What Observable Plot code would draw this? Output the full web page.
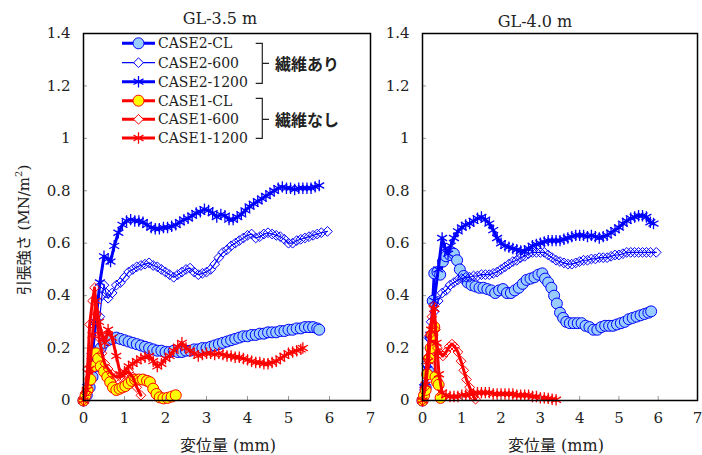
<!DOCTYPE html>
<html><head><meta charset="utf-8">
<script src="https://cdn.jsdelivr.net/npm/d3@7"></script>
<script src="https://cdn.jsdelivr.net/npm/@observablehq/plot@0.6"></script>
<style>
body{margin:0;background:#fff;}
#wrap{position:relative;width:702px;height:455px;overflow:hidden;background:#fff;}
#wrap svg{position:absolute;top:0;}
</style></head><body><div id="wrap"></div>
<script>
// ---------- labels / ticks ----------
const xTicks = [0, 1, 2, 3, 4, 5, 6, 7];
const yTicks = [0, 0.2, 0.4, 0.6, 0.8, 1, 1.2, 1.4];
const seriesNames = ["CASE2-CL", "CASE2-600", "CASE2-1200", "CASE1-CL", "CASE1-600", "CASE1-1200"];
const panelTitles = ["GL-3.5 m", "GL-4.0 m"];
const groupLabels = ["繊維あり", "繊維なし"];
const xLabel = "変位量 (mm)";
const yLabelParts = ["引張強さ (MN/m", "2", ")"];

// ---------- GL-3.5 m data [displacement mm, strength MN/m2] ----------
const gl35_case2_cl = [[0,0],[0.08,0.02],[0.15,0.05],[0.22,0.09],[0.3,0.13],[0.36,0.17],[0.42,0.2],[0.5,0.22],[0.6,0.23],[0.7,0.235],[0.8,0.24],[0.9,0.235],[1.0,0.23],[1.1,0.225],[1.2,0.22],[1.3,0.215],[1.4,0.21],[1.5,0.205],[1.6,0.2],[1.7,0.195],[1.8,0.19],[1.9,0.19],[2.0,0.185],[2.1,0.185],[2.2,0.19],[2.3,0.185],[2.4,0.185],[2.5,0.19],[2.6,0.19],[2.7,0.195],[2.8,0.195],[2.9,0.2],[3.0,0.2],[3.1,0.205],[3.2,0.21],[3.3,0.215],[3.4,0.22],[3.5,0.225],[3.6,0.23],[3.7,0.235],[3.8,0.24],[3.9,0.245],[4.0,0.245],[4.1,0.25],[4.2,0.25],[4.3,0.255],[4.4,0.255],[4.5,0.26],[4.6,0.26],[4.7,0.26],[4.8,0.265],[4.9,0.265],[5.0,0.27],[5.1,0.27],[5.2,0.275],[5.3,0.275],[5.4,0.28],[5.5,0.28],[5.6,0.28],[5.7,0.275],[5.75,0.27]];
const gl35_case2_600 = [[0,0],[0.1,0.06],[0.2,0.18],[0.3,0.3],[0.4,0.32],[0.45,0.4],[0.5,0.44],[0.55,0.41],[0.6,0.39],[0.7,0.41],[0.8,0.44],[0.9,0.45],[1.0,0.47],[1.1,0.49],[1.2,0.5],[1.3,0.51],[1.4,0.515],[1.5,0.52],[1.6,0.525],[1.7,0.515],[1.8,0.51],[1.9,0.5],[2.0,0.49],[2.1,0.48],[2.2,0.47],[2.3,0.48],[2.4,0.49],[2.5,0.5],[2.6,0.505],[2.7,0.49],[2.8,0.48],[2.9,0.485],[3.0,0.49],[3.1,0.5],[3.2,0.52],[3.3,0.545],[3.4,0.565],[3.5,0.575],[3.6,0.59],[3.7,0.6],[3.8,0.61],[3.9,0.62],[4.0,0.63],[4.1,0.635],[4.2,0.62],[4.3,0.625],[4.4,0.635],[4.5,0.64],[4.6,0.635],[4.7,0.63],[4.8,0.625],[4.9,0.615],[5.0,0.6],[5.1,0.6],[5.2,0.61],[5.3,0.615],[5.4,0.62],[5.5,0.625],[5.6,0.63],[5.7,0.635],[5.8,0.64],[5.95,0.645]];
const gl35_case2_1200 = [[0,0],[0.1,0.05],[0.2,0.15],[0.3,0.3],[0.4,0.45],[0.5,0.55],[0.6,0.54],[0.66,0.53],[0.75,0.59],[0.85,0.64],[0.95,0.67],[1.05,0.685],[1.15,0.69],[1.25,0.685],[1.35,0.685],[1.45,0.68],[1.55,0.67],[1.65,0.66],[1.75,0.655],[1.85,0.655],[1.95,0.66],[2.05,0.66],[2.15,0.665],[2.25,0.67],[2.35,0.68],[2.45,0.69],[2.55,0.695],[2.65,0.705],[2.75,0.715],[2.85,0.72],[2.95,0.73],[3.05,0.725],[3.15,0.715],[3.25,0.7],[3.35,0.71],[3.45,0.705],[3.55,0.69],[3.65,0.69],[3.75,0.7],[3.85,0.71],[3.95,0.725],[4.05,0.74],[4.15,0.75],[4.25,0.76],[4.35,0.77],[4.45,0.78],[4.55,0.79],[4.65,0.8],[4.75,0.81],[4.85,0.815],[4.95,0.81],[5.05,0.81],[5.15,0.805],[5.25,0.81],[5.35,0.81],[5.45,0.81],[5.55,0.81],[5.65,0.815],[5.75,0.82]];
const gl35_case1_cl = [[0,0],[0.05,0.02],[0.1,0.04],[0.17,0.08],[0.23,0.13],[0.3,0.18],[0.36,0.16],[0.42,0.13],[0.5,0.11],[0.58,0.09],[0.65,0.07],[0.72,0.05],[0.8,0.04],[0.88,0.045],[0.95,0.05],[1.02,0.055],[1.1,0.065],[1.18,0.075],[1.26,0.08],[1.35,0.08],[1.45,0.08],[1.55,0.075],[1.62,0.07],[1.7,0.045],[1.78,0.025],[1.86,0.012],[1.95,0.008],[2.05,0.01],[2.15,0.015],[2.25,0.02]];
const gl35_case1_600 = [[0,0],[0.05,0.03],[0.1,0.12],[0.15,0.29],[0.22,0.38],[0.27,0.43],[0.32,0.33],[0.38,0.24],[0.45,0.18],[0.52,0.14],[0.6,0.12],[0.7,0.1],[0.8,0.09],[0.9,0.09],[1.0,0.1],[1.1,0.11],[1.2,0.09],[1.3,0.05],[1.4,0.02]];
const gl35_case1_1200 = [[0,0],[0.08,0.04],[0.15,0.12],[0.22,0.25],[0.3,0.38],[0.38,0.3],[0.45,0.25],[0.52,0.22],[0.6,0.27],[0.7,0.24],[0.8,0.17],[0.9,0.1],[1.0,0.11],[1.1,0.13],[1.2,0.14],[1.3,0.15],[1.4,0.16],[1.5,0.165],[1.6,0.17],[1.7,0.15],[1.8,0.13],[1.9,0.14],[2.0,0.16],[2.1,0.17],[2.2,0.19],[2.3,0.205],[2.4,0.22],[2.5,0.2],[2.6,0.19],[2.7,0.18],[2.8,0.17],[2.9,0.175],[3.0,0.18],[3.1,0.18],[3.2,0.175],[3.3,0.18],[3.4,0.175],[3.5,0.17],[3.6,0.17],[3.7,0.165],[3.8,0.165],[3.9,0.16],[4.0,0.155],[4.1,0.15],[4.2,0.145],[4.3,0.145],[4.4,0.14],[4.5,0.14],[4.6,0.145],[4.7,0.15],[4.8,0.16],[4.9,0.17],[5.0,0.18],[5.1,0.185],[5.2,0.19],[5.3,0.195],[5.35,0.2]];

// ---------- GL-4.0 m data ----------
const gl40_case2_cl = [[0,0],[0.08,0.05],[0.16,0.11],[0.22,0.24],[0.26,0.38],[0.3,0.485],[0.38,0.49],[0.45,0.48],[0.52,0.53],[0.6,0.55],[0.7,0.555],[0.8,0.56],[0.88,0.535],[0.95,0.5],[1.05,0.475],[1.15,0.45],[1.25,0.44],[1.35,0.435],[1.45,0.43],[1.55,0.43],[1.65,0.425],[1.75,0.42],[1.85,0.41],[1.95,0.42],[2.05,0.425],[2.15,0.41],[2.25,0.41],[2.35,0.42],[2.45,0.43],[2.55,0.445],[2.65,0.46],[2.75,0.465],[2.85,0.47],[2.95,0.48],[3.05,0.485],[3.12,0.465],[3.2,0.45],[3.28,0.43],[3.35,0.4],[3.42,0.37],[3.5,0.335],[3.58,0.315],[3.66,0.3],[3.75,0.295],[3.85,0.295],[3.95,0.295],[4.05,0.295],[4.15,0.285],[4.25,0.28],[4.35,0.27],[4.45,0.27],[4.55,0.28],[4.65,0.285],[4.75,0.285],[4.85,0.285],[4.95,0.29],[5.05,0.295],[5.15,0.3],[5.25,0.31],[5.35,0.315],[5.45,0.32],[5.55,0.325],[5.65,0.33],[5.75,0.335],[5.82,0.34]];
const gl40_case2_600 = [[0,0],[0.05,0.06],[0.1,0.14],[0.16,0.24],[0.22,0.3],[0.3,0.34],[0.4,0.38],[0.5,0.41],[0.6,0.42],[0.7,0.44],[0.8,0.45],[0.9,0.46],[1.0,0.465],[1.1,0.47],[1.2,0.47],[1.3,0.475],[1.4,0.475],[1.5,0.48],[1.6,0.48],[1.7,0.48],[1.8,0.485],[1.9,0.49],[2.0,0.5],[2.1,0.51],[2.2,0.52],[2.3,0.53],[2.4,0.535],[2.5,0.545],[2.6,0.55],[2.7,0.56],[2.8,0.565],[2.9,0.565],[3.0,0.565],[3.1,0.565],[3.2,0.555],[3.3,0.545],[3.4,0.535],[3.5,0.53],[3.6,0.525],[3.7,0.52],[3.8,0.52],[3.9,0.525],[4.0,0.53],[4.1,0.535],[4.2,0.535],[4.3,0.54],[4.4,0.54],[4.5,0.545],[4.6,0.545],[4.7,0.545],[4.8,0.55],[4.9,0.555],[5.0,0.555],[5.1,0.56],[5.2,0.565],[5.3,0.565],[5.4,0.565],[5.5,0.565],[5.6,0.565],[5.7,0.565],[5.8,0.565],[5.95,0.565]];
const gl40_case2_1200 = [[0,0],[0.05,0.05],[0.12,0.12],[0.2,0.25],[0.3,0.38],[0.4,0.5],[0.5,0.62],[0.58,0.58],[0.65,0.56],[0.72,0.59],[0.8,0.62],[0.9,0.645],[1.0,0.66],[1.1,0.67],[1.2,0.675],[1.3,0.685],[1.4,0.695],[1.5,0.7],[1.6,0.69],[1.7,0.675],[1.8,0.65],[1.9,0.62],[2.0,0.6],[2.1,0.59],[2.2,0.585],[2.3,0.58],[2.4,0.575],[2.5,0.57],[2.6,0.57],[2.7,0.58],[2.8,0.59],[2.9,0.595],[3.0,0.6],[3.1,0.605],[3.2,0.61],[3.3,0.61],[3.4,0.61],[3.5,0.61],[3.6,0.615],[3.7,0.62],[3.8,0.625],[3.9,0.63],[4.0,0.63],[4.1,0.63],[4.2,0.625],[4.3,0.63],[4.4,0.625],[4.5,0.62],[4.6,0.625],[4.7,0.63],[4.8,0.64],[4.9,0.65],[5.0,0.66],[5.1,0.675],[5.2,0.685],[5.3,0.695],[5.4,0.7],[5.5,0.705],[5.6,0.705],[5.7,0.7],[5.8,0.68],[5.88,0.675]];
const gl40_case1_cl = [[0,0],[0.04,0.02],[0.08,0.04],[0.12,0.1],[0.17,0.16],[0.21,0.2],[0.25,0.25],[0.3,0.28],[0.33,0.09],[0.37,0.07],[0.41,0.06],[0.46,0.01]];
const gl40_case1_600 = [[0,0],[0.06,0.05],[0.12,0.16],[0.18,0.25],[0.24,0.32],[0.28,0.36],[0.33,0.27],[0.38,0.2],[0.45,0.18],[0.52,0.17],[0.6,0.185],[0.68,0.205],[0.75,0.215],[0.82,0.205],[0.9,0.185],[0.98,0.15],[1.05,0.115],[1.12,0.08],[1.2,0.05],[1.28,0.02],[1.35,0.005]];
const gl40_case1_1200 = [[0,0],[0.08,0.06],[0.15,0.15],[0.22,0.27],[0.3,0.35],[0.36,0.22],[0.42,0.1],[0.5,0.03],[0.6,0.02],[0.7,0.015],[0.8,0.015],[0.9,0.015],[1.0,0.02],[1.1,0.02],[1.2,0.025],[1.3,0.025],[1.4,0.03],[1.5,0.03],[1.6,0.03],[1.7,0.03],[1.8,0.025],[1.9,0.025],[2.0,0.025],[2.1,0.025],[2.2,0.025],[2.3,0.025],[2.4,0.02],[2.5,0.02],[2.6,0.02],[2.7,0.02],[2.8,0.015],[2.9,0.015],[3.0,0.01],[3.1,0.01],[3.2,0.008],[3.3,0.005],[3.4,0.003]];

// ---------- styling (not data) ----------
const BLUE = "#0000ff", RED = "#ff0000";
const styles = {
  "CASE2-CL":   {stroke: BLUE, lw: 3,   symbol: "circle",   fill: "#99ccff", mw: 1,   r: 5.5},
  "CASE2-600":  {stroke: BLUE, lw: 1.2, symbol: "diamond2", fill: "none",    mw: 1,   r: 4.4},
  "CASE2-1200": {stroke: BLUE, lw: 3,   symbol: "asterisk", fill: "none",    mw: 1.3, r: 5.4},
  "CASE1-CL":   {stroke: RED,  lw: 3,   symbol: "circle",   fill: "#ffff00", mw: 1,   r: 5.5},
  "CASE1-600":  {stroke: RED,  lw: 3,   symbol: "diamond2", fill: "none",    mw: 1,   r: 4.4},
  "CASE1-1200": {stroke: RED,  lw: 3,   symbol: "asterisk", fill: "none",    mw: 1.3, r: 5.4}
};

const panels = [
  {title: panelTitles[0], series: [gl35_case2_cl, gl35_case2_600, gl35_case2_1200, gl35_case1_cl, gl35_case1_600, gl35_case1_1200],
   left: 0, width: 380, ml: 83, mr: 10},
  {title: panelTitles[1], series: [gl40_case2_cl, gl40_case2_600, gl40_case2_1200, gl40_case1_cl, gl40_case1_600, gl40_case1_1200],
   left: 340, width: 362, ml: 82, mr: 5}
];

const MT = 33, MB = 55, H = 455;
const FONT = "'DejaVu Serif', 'Noto Sans CJK JP', serif";
const wrap = document.getElementById("wrap");
const fmt = d => String(d);

panels.forEach(p => {
  const innerW = p.width - p.ml - p.mr, innerH = H - MT - MB;
  const marks = [];
  p.series.forEach((data, i) => {
    const s = styles[seriesNames[i]];
    marks.push(Plot.line(data, {x: d => d[0], y: d => d[1], stroke: s.stroke, strokeWidth: s.lw, strokeLinejoin: "round"}));
    marks.push(Plot.dot(data, {x: d => d[0], y: d => d[1], symbol: s.symbol, r: s.r, fill: s.fill, stroke: s.stroke, strokeWidth: s.mw}));
  });
  marks.push(Plot.ruleY(yTicks.slice(1, -1), {y: d => d, insetRight: innerW - 4, stroke: "#999", strokeWidth: 1}));
  marks.push(Plot.ruleX(xTicks.slice(1, -1), {x: d => d, insetTop: innerH - 4, stroke: "#999", strokeWidth: 1}));
  marks.push(Plot.frame({stroke: "#000", strokeWidth: 1.5}));
  marks.push(Plot.axisX(xTicks, {tickSize: 0, tickPadding: 12, tickFormat: fmt}));
  marks.push(Plot.axisY(yTicks, {tickSize: 0, tickPadding: 13, tickFormat: fmt}));
  const svg = Plot.plot({
    width: p.width, height: H,
    marginLeft: p.ml, marginRight: p.mr, marginTop: MT, marginBottom: MB,
    x: {domain: [0, 7], label: null},
    y: {domain: [0, 1.4], label: null},
    style: {fontFamily: FONT, fontSize: "15px", color: "#222", background: "transparent", overflow: "visible"},
    marks
  });
  svg.style.left = p.left + "px";
  wrap.appendChild(svg);
});

// ---------- overlay: titles, axis labels, legend ----------
const ov = d3.select(wrap).append("svg")
  .attr("width", 702).attr("height", 455)
  .style("left", "0px")
  .style("font-family", FONT);

// panel titles
[[220, 18], [535, 21]].forEach(([x, y], i) => {
  ov.append("text").attr("x", x).attr("y", y).attr("text-anchor", "middle")
    .attr("dominant-baseline", "central").attr("font-size", 16).attr("fill", "#222").text(panelTitles[i]);
});
// x labels
[228, 556].forEach(x => {
  ov.append("text").attr("x", x).attr("y", 445).attr("text-anchor", "middle")
    .attr("dominant-baseline", "central").attr("font-size", 16).attr("fill", "#222").text(xLabel);
});
// y label
const yl = ov.append("text").attr("transform", "translate(24,230) rotate(-90)")
  .attr("text-anchor", "middle").attr("dominant-baseline", "central").attr("font-size", 15).attr("fill", "#222");
yl.append("tspan").text(yLabelParts[0]);
yl.append("tspan").attr("baseline-shift", "super").attr("font-size", 10).text(yLabelParts[1]);
yl.append("tspan").text(yLabelParts[2]);

// legend
const rowY = [43.3, 62.7, 81.7, 100.7, 119.3, 138];
const symMap = {circle: d3.symbolCircle, diamond2: d3.symbolDiamond2, asterisk: d3.symbolAsterisk};
seriesNames.forEach((name, i) => {
  const s = styles[name], y = rowY[i];
  ov.append("line").attr("x1", 122).attr("x2", 155).attr("y1", y).attr("y2", y)
    .attr("stroke", s.stroke).attr("stroke-width", s.lw);
  ov.append("path").attr("transform", `translate(138.5,${y})`)
    .attr("d", d3.symbol(symMap[s.symbol], Math.PI * s.r * s.r)())
    .attr("fill", s.fill === "none" ? "#fff" : s.fill)
    .attr("stroke", s.stroke).attr("stroke-width", s.mw);
  ov.append("text").attr("x", 158).attr("y", y).attr("dominant-baseline", "central")
    .attr("font-size", 14).attr("fill", "#222").text(name);
});
// braces
[[43.3, 83.3, 63.3], [98.3, 138.3, 119.3]].forEach(([t, b, m], i) => {
  ov.append("path").attr("d", `M255.7,${t}H262.3V${b}H255.7M262.3,${m}H269`)
    .attr("fill", "none").attr("stroke", "#222").attr("stroke-width", 1.2);
  ov.append("text").attr("x", 275).attr("y", m).attr("dominant-baseline", "central")
    .attr("font-family", "'Noto Sans CJK JP', sans-serif").attr("font-weight", "bold")
    .attr("font-size", 16).attr("fill", "#222").text(groupLabels[i]);
});
</script></body></html>
